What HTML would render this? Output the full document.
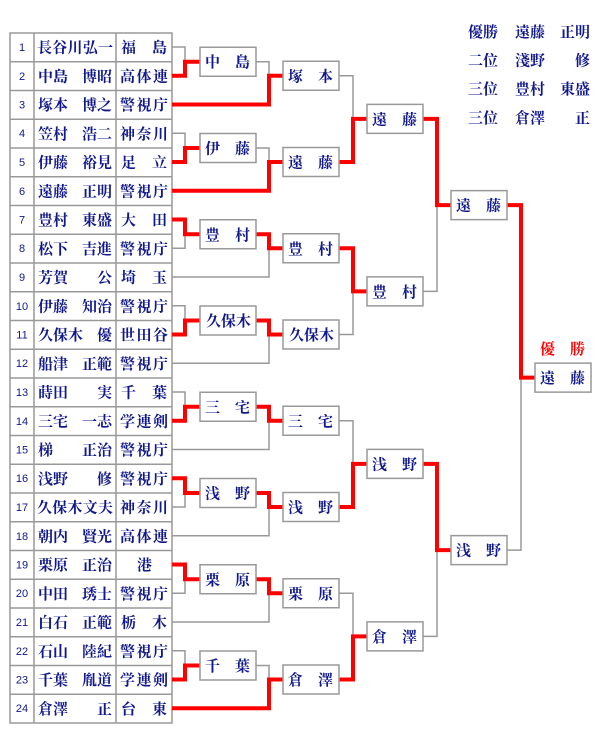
<!DOCTYPE html>
<html><head><meta charset="utf-8">
<style>
html,body{margin:0;padding:0;background:#fff;}
svg{display:block;}
text{font-family:"Noto Serif CJK SC","Liberation Serif",serif;fill:#10188a;font-size:15px;font-weight:bold;}
.n{font-size:11px;font-weight:normal;font-family:"Liberation Sans","Noto Sans CJK JP",sans-serif;}
.r{fill:#f00;}
</style></head><body>
<svg width="600" height="740" viewBox="0 0 600 740" xmlns="http://www.w3.org/2000/svg">
<g fill="none" stroke="#999" stroke-width="1.5">
<rect x="10" y="33" width="162" height="690"/>
<line x1="34" y1="33" x2="34" y2="723"/>
<line x1="116" y1="33" x2="116" y2="723"/>
<path d="M10,61.75H172M10,90.5H172M10,119.25H172M10,148H172M10,176.75H172M10,205.5H172M10,234.25H172M10,263H172M10,291.75H172M10,320.5H172M10,349.25H172M10,378H172M10,406.75H172M10,435.5H172M10,464.25H172M10,493H172M10,521.75H172M10,550.5H172M10,579.25H172M10,608H172M10,636.75H172M10,665.5H172M10,694.25H172"/>
</g>
<g text-anchor="middle">
<text class="n" x="22" y="51">1</text><text class="n" x="22" y="80">2</text><text class="n" x="22" y="108.5">3</text><text class="n" x="22" y="137">4</text><text class="n" x="22" y="166">5</text><text class="n" x="22" y="195">6</text><text class="n" x="22" y="223.5">7</text><text class="n" x="22" y="252">8</text><text class="n" x="22" y="281">9</text><text class="n" x="22" y="310">10</text><text class="n" x="22" y="338.5">11</text><text class="n" x="22" y="367">12</text><text class="n" x="22" y="396">13</text><text class="n" x="22" y="425">14</text><text class="n" x="22" y="453.5">15</text><text class="n" x="22" y="482">16</text><text class="n" x="22" y="511">17</text><text class="n" x="22" y="540">18</text><text class="n" x="22" y="568.5">19</text><text class="n" x="22" y="597">20</text><text class="n" x="22" y="626">21</text><text class="n" x="22" y="655">22</text><text class="n" x="22" y="683.5">23</text><text class="n" x="22" y="712">24</text>
</g>
<g>
<text x="37" y="52.5" textLength="76" lengthAdjust="spacing">長谷川弘一</text>
<text x="38" y="81.25">中島</text>
<text x="38" y="110">塚本</text>
<text x="38" y="138.75">笠村</text>
<text x="38" y="167.5">伊藤</text>
<text x="38" y="196.25">遠藤</text>
<text x="38" y="225">豊村</text>
<text x="38" y="253.75">松下</text>
<text x="38" y="282.5">芳賀</text>
<text x="38" y="311.25">伊藤</text>
<text x="38" y="340">久保木</text>
<text x="38" y="368.75">船津</text>
<text x="38" y="397.5">蒔田</text>
<text x="38" y="426.25">三宅</text>
<text x="38" y="455">梯</text>
<text x="38" y="483.75">浅野</text>
<text x="37" y="512.5" textLength="76" lengthAdjust="spacing">久保木文夫</text>
<text x="38" y="541.25">朝内</text>
<text x="38" y="570">栗原</text>
<text x="38" y="598.75">中田</text>
<text x="38" y="627.5">白石</text>
<text x="38" y="656.25">石山</text>
<text x="38" y="685">千葉</text>
<text x="38" y="713.75">倉澤</text>
</g>
<g text-anchor="end">
<text x="112" y="81.25">博昭</text>
<text x="112" y="110">博之</text>
<text x="112" y="138.75">浩二</text>
<text x="112" y="167.5">裕見</text>
<text x="112" y="196.25">正明</text>
<text x="112" y="225">東盛</text>
<text x="112" y="253.75">吉進</text>
<text x="112" y="282.5">公</text>
<text x="112" y="311.25">知治</text>
<text x="112" y="340">優</text>
<text x="112" y="368.75">正範</text>
<text x="112" y="397.5">実</text>
<text x="112" y="426.25">一志</text>
<text x="112" y="455">正治</text>
<text x="112" y="483.75">修</text>
<text x="112" y="541.25">賢光</text>
<text x="112" y="570">正治</text>
<text x="112" y="598.75">琇士</text>
<text x="112" y="627.5">正範</text>
<text x="112" y="656.25">陸紀</text>
<text x="112" y="685">胤道</text>
<text x="112" y="713.75">正</text>
</g>
<g>
<text x="121" y="52.5">福</text><text x="152" y="52.5">島</text>
<text x="120" y="81.25" textLength="48" lengthAdjust="spacing">高体連</text>
<text x="120" y="110" textLength="48" lengthAdjust="spacing">警視庁</text>
<text x="120" y="138.75" textLength="48" lengthAdjust="spacing">神奈川</text>
<text x="121" y="167.5">足</text><text x="152" y="167.5">立</text>
<text x="120" y="196.25" textLength="48" lengthAdjust="spacing">警視庁</text>
<text x="121" y="225">大</text><text x="152" y="225">田</text>
<text x="120" y="253.75" textLength="48" lengthAdjust="spacing">警視庁</text>
<text x="121" y="282.5">埼</text><text x="152" y="282.5">玉</text>
<text x="120" y="311.25" textLength="48" lengthAdjust="spacing">警視庁</text>
<text x="120" y="340" textLength="48" lengthAdjust="spacing">世田谷</text>
<text x="120" y="368.75" textLength="48" lengthAdjust="spacing">警視庁</text>
<text x="121" y="397.5">千</text><text x="152" y="397.5">葉</text>
<text x="120" y="426.25" textLength="48" lengthAdjust="spacing">学連剣</text>
<text x="120" y="455" textLength="48" lengthAdjust="spacing">警視庁</text>
<text x="120" y="483.75" textLength="48" lengthAdjust="spacing">警視庁</text>
<text x="120" y="512.5" textLength="48" lengthAdjust="spacing">神奈川</text>
<text x="120" y="541.25" textLength="48" lengthAdjust="spacing">高体連</text>
<text x="137" y="570">港</text>
<text x="120" y="598.75" textLength="48" lengthAdjust="spacing">警視庁</text>
<text x="121" y="627.5">栃</text><text x="152" y="627.5">木</text>
<text x="120" y="656.25" textLength="48" lengthAdjust="spacing">警視庁</text>
<text x="120" y="685" textLength="48" lengthAdjust="spacing">学連剣</text>
<text x="121" y="713.75">台</text><text x="152" y="713.75">東</text>
</g>
<g fill="none" stroke="#999" stroke-width="1.5">
<path d="M172,47H185V75.75H172M185,61.75H200"/>
<path d="M172,133.25H185V162H172M185,148H200"/>
<path d="M172,219.5H185V248.25H172M185,234.25H200"/>
<path d="M172,305.75H185V334.5H172M185,320.5H200"/>
<path d="M172,392H185V420.75H172M185,406.75H200"/>
<path d="M172,478.25H185V507H172M185,493H200"/>
<path d="M172,564.5H185V593.25H172M185,579.25H200"/>
<path d="M172,650.75H185V679.5H172M185,665.5H200"/>
<path d="M256,61.75H269V104.5H172"/>
<path d="M256,148H269V190.75H172"/>
<path d="M256,234.25H269V277H172"/>
<path d="M256,320.5H269V363.25H172"/>
<path d="M256,406.75H269V449.5H172"/>
<path d="M256,493H269V535.75H172"/>
<path d="M256,579.25H269V622H172"/>
<path d="M256,665.5H269V708.25H172"/>
<path d="M339,75.75H353V162H339"/>
<path d="M339,248.25H353V334.5H339"/>
<path d="M339,420.75H353V507H339"/>
<path d="M339,593.25H353V679.5H339"/>
<path d="M423,118.875H437V291.375H423"/>
<path d="M423,463.875H437V636.375H423"/>
<path d="M507,205.125H521V550.125H507"/>
</g>
<g fill="none" stroke="#f00" stroke-width="4">
<path d="M172,75.75H185V61.75H200"/>
<path d="M172,162H185V148H200"/>
<path d="M172,219.5H185V234.25H200"/>
<path d="M172,334.5H185V320.5H200"/>
<path d="M172,420.75H185V406.75H200"/>
<path d="M172,478.25H185V493H200"/>
<path d="M172,564.5H185V579.25H200"/>
<path d="M172,679.5H185V665.5H200"/>
<path d="M172,104.5H269V75.75H283"/>
<path d="M172,190.75H269V162H283"/>
<path d="M256,234.25H269V248.25H283"/>
<path d="M256,320.5H269V334.5H283"/>
<path d="M256,406.75H269V420.75H283"/>
<path d="M256,493H269V507H283"/>
<path d="M256,579.25H269V593.25H283"/>
<path d="M172,708.25H269V679.5H283"/>
<path d="M339,162H353V118.875H367"/>
<path d="M339,248.25H353V291.375H367"/>
<path d="M339,507H353V463.875H367"/>
<path d="M339,679.5H353V636.375H367"/>
<path d="M423,118.875H437V205.125H451"/>
<path d="M423,463.875H437V550.125H451"/>
<path d="M507,205.125H521V377.625H535"/>
</g>
<g fill="#fff" stroke="#999" stroke-width="1.5">
<rect x="200" y="47.25" width="56" height="29"/>
<rect x="200" y="133.5" width="56" height="29"/>
<rect x="200" y="219.75" width="56" height="29"/>
<rect x="200" y="306" width="56" height="29"/>
<rect x="200" y="392.25" width="56" height="29"/>
<rect x="200" y="478.5" width="56" height="29"/>
<rect x="200" y="564.75" width="56" height="29"/>
<rect x="200" y="651" width="56" height="29"/>
<rect x="283" y="61.25" width="56" height="29"/>
<rect x="283" y="147.5" width="56" height="29"/>
<rect x="283" y="233.75" width="56" height="29"/>
<rect x="283" y="320" width="56" height="29"/>
<rect x="283" y="406.25" width="56" height="29"/>
<rect x="283" y="492.5" width="56" height="29"/>
<rect x="283" y="578.75" width="56" height="29"/>
<rect x="283" y="665" width="56" height="29"/>
<rect x="367" y="104.375" width="56" height="29"/>
<rect x="367" y="276.875" width="56" height="29"/>
<rect x="367" y="449.375" width="56" height="29"/>
<rect x="367" y="621.875" width="56" height="29"/>
<rect x="451" y="190.625" width="56" height="29"/>
<rect x="451" y="535.625" width="56" height="29"/>
<rect x="535" y="363.125" width="56" height="29"/>
</g>
<g>
<text x="205" y="67">中</text><text x="235" y="67">島</text>
<text x="205" y="153.5">伊</text><text x="235" y="153.5">藤</text>
<text x="205" y="239.75">豊</text><text x="235" y="239.75">村</text>
<text x="206" y="326" textLength="45" lengthAdjust="spacing">久保木</text>
<text x="205" y="412.25">三</text><text x="235" y="412.25">宅</text>
<text x="205" y="498.5">浅</text><text x="235" y="498.5">野</text>
<text x="205" y="584.75">栗</text><text x="235" y="584.75">原</text>
<text x="205" y="671">千</text><text x="235" y="671">葉</text>
<text x="288" y="81.25">塚</text><text x="318" y="81.25">本</text>
<text x="288" y="167.5">遠</text><text x="318" y="167.5">藤</text>
<text x="288" y="253.75">豊</text><text x="318" y="253.75">村</text>
<text x="289" y="340" textLength="45" lengthAdjust="spacing">久保木</text>
<text x="288" y="426.25">三</text><text x="318" y="426.25">宅</text>
<text x="288" y="512.5">浅</text><text x="318" y="512.5">野</text>
<text x="288" y="598.75">栗</text><text x="318" y="598.75">原</text>
<text x="288" y="685">倉</text><text x="318" y="685">澤</text>
<text x="372" y="124.4">遠</text><text x="402" y="124.4">藤</text>
<text x="372" y="296.9">豊</text><text x="402" y="296.9">村</text>
<text x="372" y="469.4">浅</text><text x="402" y="469.4">野</text>
<text x="372" y="641.9">倉</text><text x="402" y="641.9">澤</text>
<text x="456" y="210.6">遠</text><text x="486" y="210.6">藤</text>
<text x="456" y="555.6">浅</text><text x="486" y="555.6">野</text>
<text x="540" y="383.1">遠</text><text x="570" y="383.1">藤</text>
<text class="r" x="540" y="354">優</text><text class="r" x="570" y="354">勝</text>
</g>
<g>
<text x="468" y="37">優勝</text><text x="515" y="37">遠藤</text><text x="590" y="37" text-anchor="end">正明</text>
<text x="468" y="65.5">二位</text><text x="515" y="65.5">淺野</text><text x="590" y="65.5" text-anchor="end">修</text>
<text x="468" y="94">三位</text><text x="515" y="94">豊村</text><text x="590" y="94" text-anchor="end">東盛</text>
<text x="468" y="123">三位</text><text x="515" y="123">倉澤</text><text x="590" y="123" text-anchor="end">正</text>
</g>
</svg>
</body></html>
